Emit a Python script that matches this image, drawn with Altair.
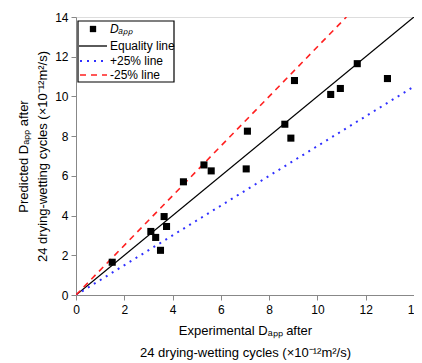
import altair as alt
import pandas as pd

# Measured points (Experimental vs Predicted D_app, x10^-12 m^2/s)
exp_vals = [1.5, 3.1, 3.3, 3.5, 3.65, 3.75, 4.45, 5.3, 5.6, 7.05, 7.1, 8.65, 8.9, 9.05, 10.55, 10.95, 11.65, 12.9]
pred_vals = [1.65, 3.2, 2.9, 2.25, 3.95, 3.45, 5.7, 6.55, 6.25, 6.35, 8.25, 8.6, 7.9, 10.8, 10.1, 10.4, 11.65, 10.9]

# Reference lines (end points)
eq_x = [0, 14]
eq_y = [0, 14]
plus_x = [0, 14]
plus_y = [0, 10.5]
minus_x = [0, 11.2]
minus_y = [0, 14]

legend_labels = ["Dₐₚₚ", "Equality line", "+25% line", "-25% line"]

FONT = "Liberation Sans"

pts = pd.DataFrame({"x": exp_vals, "y": pred_vals})
eq = pd.DataFrame({"x": eq_x, "y": eq_y})
plus = pd.DataFrame({"x": plus_x, "y": plus_y})
minus = pd.DataFrame({"x": minus_x, "y": minus_y})

xscale = alt.Scale(domain=[0, 14], nice=False, zero=False)
yscale = alt.Scale(domain=[0, 14], nice=False, zero=False)

xaxis = alt.Axis(
    values=list(range(0, 15, 2)),
    title=["Experimental Dₐₚₚ after", "24 drying-wetting cycles (×10⁻¹²m²/s)"],
    titleFontSize=13, titleFontWeight="normal", titlePadding=9, titleLineHeight=22,
    labelFontSize=12, labelPadding=4, tickSize=5, grid=False,
    labelOverlap=False, labelFlush=False,
)
yaxis = alt.Axis(
    values=list(range(0, 15, 2)),
    title=["Predicted Dₐₚₚ after", "24 drying-wetting cycles (×10⁻¹²m²/s)"],
    titleFontSize=13, titleFontWeight="normal", titlePadding=5, titleLineHeight=19,
    labelFontSize=12, labelPadding=3, tickSize=5, grid=False,
    labelOverlap=False, labelFlush=False,
)

X = alt.X("x:Q", scale=xscale, axis=xaxis)
Y = alt.Y("y:Q", scale=yscale, axis=yaxis)

eq_line = alt.Chart(eq).mark_line(color="black", strokeWidth=1.3, clip=True).encode(x=X, y=Y)
plus_line = alt.Chart(plus).mark_line(color="#3030ff", strokeWidth=2, strokeDash=[2, 5], clip=True).encode(x=X, y=Y)
minus_line = alt.Chart(minus).mark_line(color="#ff2020", strokeWidth=1.6, strokeDash=[6, 5], clip=True).encode(x=X, y=Y)
points = alt.Chart(pts).mark_square(size=50, color="black", opacity=1, filled=True).encode(x=X, y=Y)

# Manual legend (pixel positions inside the plot area)
one = pd.DataFrame({"a": [0]})
leg_box = alt.Chart(one).mark_rect(fill="white", stroke="black", strokeWidth=1.2).encode(
    x=alt.value(2), x2=alt.value(98), y=alt.value(4), y2=alt.value(65))
leg_sq = alt.Chart(one).mark_square(size=40, color="black", filled=True, opacity=1).encode(
    x=alt.value(17), y=alt.value(12))
leg_eq = alt.Chart(one).mark_rule(color="black", strokeWidth=1.3).encode(
    x=alt.value(3), x2=alt.value(31), y=alt.value(29))
leg_plus = alt.Chart(one).mark_rule(color="#3030ff", strokeWidth=2, strokeDash=[2, 5]).encode(
    x=alt.value(4), x2=alt.value(31), y=alt.value(44))
leg_minus = alt.Chart(one).mark_rule(color="#ff2020", strokeWidth=1.6, strokeDash=[6, 5]).encode(
    x=alt.value(4), x2=alt.value(31), y=alt.value(58))

def leg_text(label, ypix, italic=False):
    return alt.Chart(one).mark_text(
        text=label, align="left", baseline="middle", fontSize=12, font=FONT,
        fontStyle="italic" if italic else "normal", color="black",
    ).encode(x=alt.value(34), y=alt.value(ypix))

legend_layers = [
    leg_box, leg_sq, leg_eq, leg_plus, leg_minus,
    leg_text(legend_labels[0], 12, italic=True),
    leg_text(legend_labels[1], 29),
    leg_text(legend_labels[2], 44),
    leg_text(legend_labels[3], 58),
]

chart = alt.layer(eq_line, plus_line, minus_line, points, *legend_layers).properties(
    width=338, height=278,
    autosize=alt.AutoSizeParams(type="none"),
    padding={"left": 68, "top": 9, "right": 0, "bottom": 70},
).configure_view(
    stroke="black", strokeWidth=1.5
).configure_axis(
    domainColor="black", domainWidth=1.5, tickColor="black", tickWidth=1.2,
    labelColor="black", titleColor="black", labelFont=FONT, titleFont=FONT,
).configure(background="white")

chart.save("out.html", embed_options={"renderer": "svg", "actions": False})
